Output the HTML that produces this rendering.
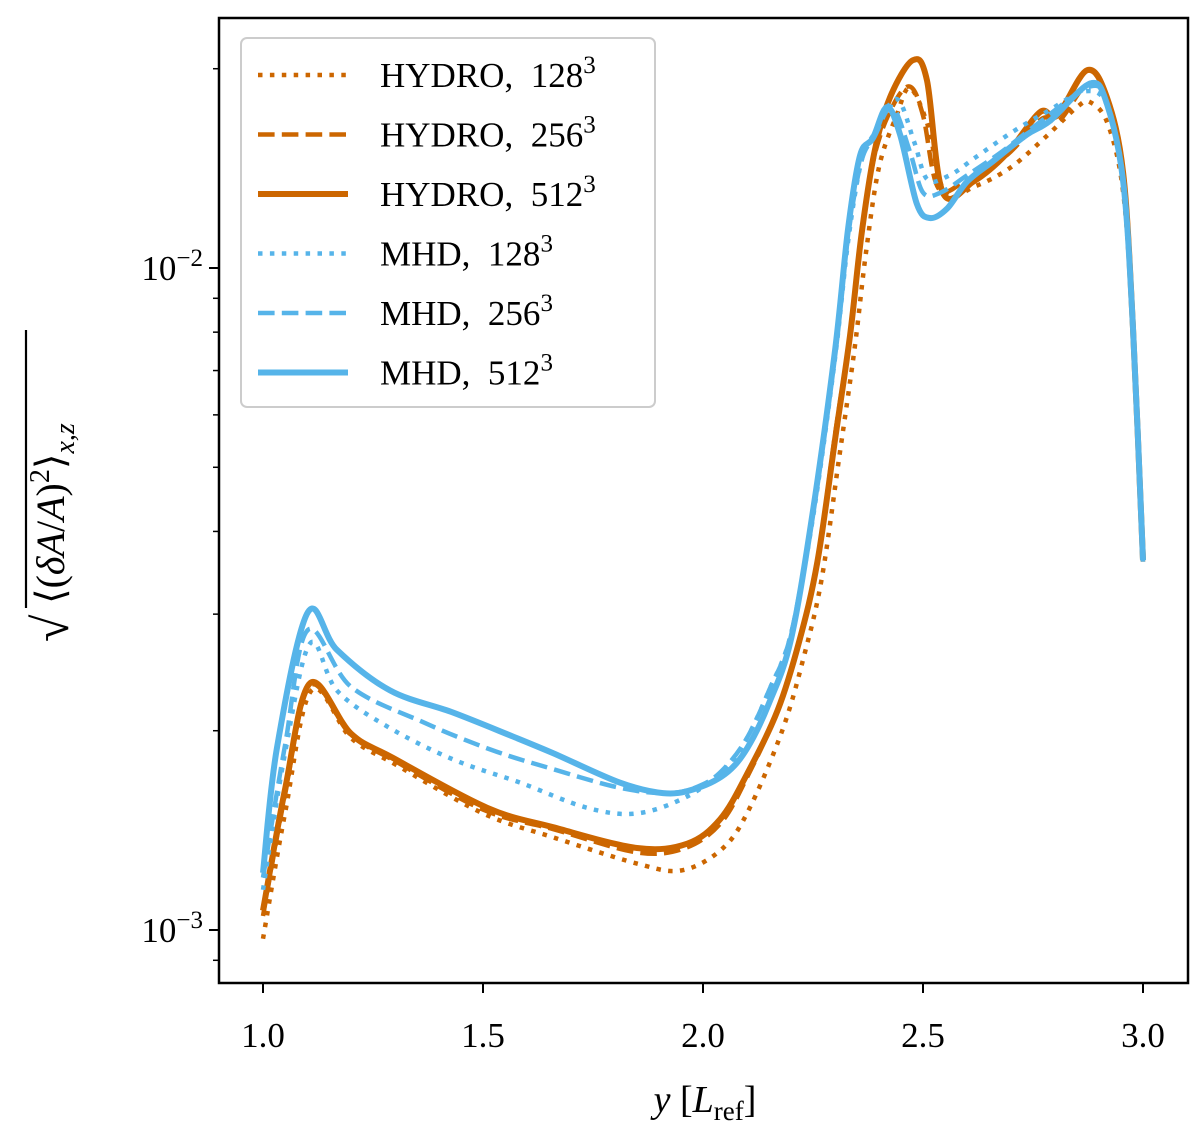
<!DOCTYPE html>
<html><head><meta charset="utf-8"><style>
body{margin:0;background:#fff}
svg{display:block;font-family:"Liberation Serif","DejaVu Serif",serif}
</style></head><body>
<svg width="1200" height="1124" viewBox="0 0 1200 1124">
<defs><clipPath id="clip"><rect x="219" y="18" width="969" height="965"/></clipPath></defs>
<g id="plot"></g>
<g id="axes"></g>
<g id="legend"></g>
</svg>
<script>
const xTicks=[1.0,1.5,2.0,2.5,3.0];
const xTickLabels=["1.0","1.5","2.0","2.5","3.0"];
const yMajor=[0.001,0.01];
const yMinor=[0.0009,0.002,0.003,0.004,0.005,0.006,0.007,0.008,0.009,0.02];
const seriesNames=["HYDRO, 128","HYDRO, 256","HYDRO, 512","MHD, 128","MHD, 256","MHD, 512"];

const h512x=[1.0,1.05,1.107,1.2,1.295,1.509,1.659,1.85,1.964,2.039,2.1,2.17,2.22,2.26,2.3,2.334,2.36,2.39,2.425,2.477,2.509,2.545,2.614,2.691,2.766,2.805,2.873,2.918,2.955,2.977,3.0];
const h512y=[1.07e-3,1.63e-3,2.36e-3,1.98e-3,1.82e-3,1.53e-3,1.43e-3,1.33e-3,1.35e-3,1.47e-3,1.72e-3,2.15e-3,2.75e-3,3.6e-3,5.5e-3,7.9e-3,1.12e-2,1.5e-2,1.81e-2,2.06e-2,1.92e-2,1.30e-2,1.35e-2,1.49e-2,1.72e-2,1.70e-2,1.99e-2,1.81e-2,1.39e-2,8.17e-3,3.62e-3];
const h256x=[1.0,1.05,1.107,1.2,1.3,1.5,1.66,1.85,1.96,2.04,2.1,2.17,2.22,2.26,2.3,2.335,2.36,2.39,2.43,2.47,2.5,2.535,2.6,2.69,2.77,2.81,2.875,2.92,2.955,2.977,3.0];
const h256y=[1.05e-3,1.6e-3,2.34e-3,1.97e-3,1.8e-3,1.52e-3,1.42e-3,1.31e-3,1.33e-3,1.45e-3,1.7e-3,2.15e-3,2.75e-3,3.6e-3,5.6e-3,8.0e-3,1.12e-2,1.48e-2,1.75e-2,1.88e-2,1.7e-2,1.32e-2,1.36e-2,1.48e-2,1.68e-2,1.67e-2,1.9e-2,1.78e-2,1.38e-2,8.1e-3,3.6e-3];
const h128x=[1.0,1.05,1.11,1.2,1.3,1.5,1.66,1.85,1.95,2.04,2.1,2.18,2.23,2.27,2.31,2.345,2.37,2.4,2.44,2.47,2.51,2.55,2.62,2.7,2.78,2.85,2.88,2.92,2.955,2.977,3.0];
const h128y=[0.97e-3,1.5e-3,2.3e-3,1.95e-3,1.78e-3,1.5e-3,1.38e-3,1.26e-3,1.23e-3,1.32e-3,1.5e-3,2.0e-3,2.6e-3,3.4e-3,5.2e-3,7.6e-3,1.05e-2,1.42e-2,1.7e-2,1.87e-2,1.65e-2,1.3e-2,1.33e-2,1.42e-2,1.58e-2,1.75e-2,1.78e-2,1.65e-2,1.3e-2,8.0e-3,3.6e-3];
const m128x=[1.0,1.05,1.107,1.168,1.282,1.432,1.584,1.736,1.85,1.963,2.05,2.1,2.15,2.2,2.25,2.3,2.33,2.36,2.39,2.44,2.48,2.51,2.56,2.62,2.7,2.78,2.87,2.92,2.955,2.977,3.0];
const m128y=[1.15e-3,1.85e-3,2.71e-3,2.30e-3,2.03e-3,1.81e-3,1.67e-3,1.53e-3,1.50e-3,1.59e-3,1.75e-3,1.95e-3,2.3e-3,2.8e-3,4.2e-3,7.3e-3,1.1e-2,1.45e-2,1.6e-2,1.8e-2,1.55e-2,1.36e-2,1.38e-2,1.47e-2,1.6e-2,1.72e-2,1.85e-2,1.75e-2,1.35e-2,8.1e-3,3.6e-3];
const m256x=[1.0,1.05,1.102,1.2,1.364,1.52,1.659,1.811,1.925,2.0,2.05,2.1,2.15,2.2,2.25,2.3,2.33,2.36,2.39,2.43,2.47,2.5,2.54,2.6,2.68,2.76,2.88,2.92,2.955,2.977,3.0];
const m256y=[1.2e-3,1.9e-3,2.84e-3,2.33e-3,2.06e-3,1.87e-3,1.75e-3,1.64e-3,1.61e-3,1.66e-3,1.76e-3,1.95e-3,2.3e-3,2.8e-3,4.3e-3,7.4e-3,1.12e-2,1.45e-2,1.58e-2,1.75e-2,1.5e-2,1.3e-2,1.3e-2,1.38e-2,1.5e-2,1.65e-2,1.88e-2,1.76e-2,1.35e-2,8.1e-3,3.6e-3];
const m512x=[1.0,1.032,1.102,1.168,1.289,1.432,1.568,1.659,1.811,1.909,1.977,2.05,2.1,2.15,2.2,2.25,2.3,2.33,2.357,2.386,2.418,2.448,2.486,2.516,2.555,2.6,2.659,2.736,2.789,2.88,2.918,2.955,2.977,3.0];
const m512y=[1.22e-3,1.89e-3,3.02e-3,2.65e-3,2.30e-3,2.13e-3,1.96e-3,1.85e-3,1.67e-3,1.61e-3,1.63e-3,1.72e-3,1.88e-3,2.2e-3,2.75e-3,4.3e-3,7.5e-3,1.15e-2,1.48e-2,1.57e-2,1.75e-2,1.59e-2,1.25e-2,1.19e-2,1.23e-2,1.35e-2,1.45e-2,1.59e-2,1.67e-2,1.90e-2,1.77e-2,1.35e-2,8.17e-3,3.62e-3];

const L=219,R=1188,T=18,B=983;
function X(v){return 263+(v-1)*440;}
function Y(v){return 268-(Math.log10(v)+2)*662;}
const NS="http://www.w3.org/2000/svg";
function mk(tag,attrs,parent){const e=document.createElementNS(NS,tag);for(const k in attrs)e.setAttribute(k,attrs[k]);parent.appendChild(e);return e;}
function pathD(xs,ys){
  const p=xs.map((x,i)=>[X(x),Y(ys[i])]);
  let d="M"+p[0][0].toFixed(1)+","+p[0][1].toFixed(1);
  for(let i=0;i<p.length-1;i++){
    const p0=p[Math.max(0,i-1)],p1=p[i],p2=p[i+1],p3=p[Math.min(p.length-1,i+2)];
    const c1=[p1[0]+(p2[0]-p0[0])/6,p1[1]+(p2[1]-p0[1])/6];
    const c2=[p2[0]-(p3[0]-p1[0])/6,p2[1]-(p3[1]-p1[1])/6];
    d+="C"+c1[0].toFixed(1)+","+c1[1].toFixed(1)+" "+c2[0].toFixed(1)+","+c2[1].toFixed(1)+" "+p2[0].toFixed(1)+","+p2[1].toFixed(1);
  }
  return d;
}
const OR="#cc6600",BL="#56b4e9";
const styles=[
 {c:OR,w:4.5,da:"4.5,7.4",xs:h128x,ys:h128y,n:"hydro-128-line"},
 {c:OR,w:4.5,da:"16.6,7.2",xs:h256x,ys:h256y,n:"hydro-256-line"},
 {c:OR,w:6,da:"",xs:h512x,ys:h512y,n:"hydro-512-line"},
 {c:BL,w:4.5,da:"4.5,7.4",xs:m128x,ys:m128y,n:"mhd-128-line"},
 {c:BL,w:4.5,da:"16.6,7.2",xs:m256x,ys:m256y,n:"mhd-256-line"},
 {c:BL,w:6,da:"",xs:m512x,ys:m512y,n:"mhd-512-line"}];
const plot=document.getElementById("plot");
styles.forEach(s=>{
  const p=mk("path",{d:pathD(s.xs,s.ys),fill:"none",stroke:s.c,"stroke-width":s.w,"stroke-dasharray":s.da,"clip-path":"url(#clip)"},plot);
  
  
});
const ax=document.getElementById("axes");
const frame=mk("rect",{x:L,y:T,width:R-L,height:B-T,fill:"none",stroke:"#000","stroke-width":2.5},ax);


xTicks.forEach((v,i)=>{
  const t=mk("line",{x1:X(v),x2:X(v),y1:B,y2:B+10,stroke:"#000","stroke-width":2},ax);
  
  
  const lb=mk("text",{x:X(v),y:B+64,"text-anchor":"middle","font-size":35},ax);
  lb.textContent=xTickLabels[i];
  
  
});
yMajor.forEach(v=>{
  const t=mk("line",{x1:L-10,x2:L,y1:Y(v),y2:Y(v),stroke:"#000","stroke-width":2},ax);
  
  
  const lb=mk("text",{x:L-16,y:Y(v)+12,"text-anchor":"end","font-size":35},ax);
  lb.innerHTML='10<tspan dy="-14" font-size="25">−'+(-Math.log10(v)).toFixed(0)+'</tspan>';
  
  
});
yMinor.forEach(v=>{
  const t=mk("line",{x1:L-6,x2:L,y1:Y(v),y2:Y(v),stroke:"#000","stroke-width":1.5},ax);
  
  
});
const xl=mk("text",{x:705,y:1112,"text-anchor":"middle","font-size":38},ax);
xl.innerHTML='<tspan font-style="italic">y</tspan> [<tspan font-style="italic">L</tspan><tspan font-size="27" dy="8">ref</tspan><tspan dy="-8">]</tspan>';


const yl=mk("g",{transform:"translate(64,490) rotate(-90)"},ax);


mk("text",{x:-152,y:4,"font-size":50},yl).textContent="√";
mk("line",{x1:-118,x2:160,y1:-38,y2:-38,stroke:"#000","stroke-width":2.2},yl);
const ytxt=mk("text",{x:-114,y:0,"font-size":40},yl);
ytxt.innerHTML='⟨(<tspan font-style="italic">δA</tspan>/<tspan font-style="italic">A</tspan>)<tspan dy="-15" font-size="28">2</tspan><tspan dy="15">⟩</tspan><tspan dy="10" font-size="28" font-style="italic">x,z</tspan>';
const lg=document.getElementById("legend");
const lb=mk("rect",{x:241,y:38,width:414,height:369,rx:6,fill:"#fff","fill-opacity":0.8,stroke:"#ccc","stroke-width":2},lg);


seriesNames.forEach((n,i)=>{
  const y=75+i*59.5,s=styles[i];
  const g=mk("g",{},lg);
  
  
  mk("line",{x1:258,x2:348,y1:y,y2:y,stroke:s.c,"stroke-width":s.w,"stroke-dasharray":s.da},g);
  const t=mk("text",{x:380,y:y+12,"font-size":35},g);
  t.innerHTML=n.replace(", ",",&#160;&#160;")+'<tspan dy="-14" font-size="25">3</tspan>';
});
</script>
</body></html>
